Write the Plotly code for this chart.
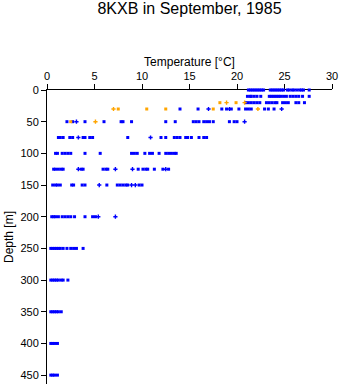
import plotly.graph_objects as go

# ---- data (depth [m] -> temperatures [°C]) ----
blue_depth = []
blue_temp = []
blue_rows = {
    0: [21.2, 21.4, 21.6, 21.8, 22.0, 22.2, 22.4, 22.6, 22.8, 23.5, 23.7, 23.9, 24.1, 24.3,
        24.5, 24.7, 24.9, 25.3, 25.5, 25.8, 26.0, 26.3, 26.6, 26.8, 27.0, 27.6],
    10: [21.1, 21.4, 21.5, 21.8, 22.1, 22.5, 23.4, 23.6, 23.8, 24.0, 24.2, 24.4, 24.6, 24.9,
         25.2, 25.6, 25.9, 26.2, 26.5, 26.9, 27.6],
    20: [20.9, 21.2, 21.5, 21.8, 22.1, 22.4, 23.1, 23.4, 23.7, 24.0, 24.2, 24.8, 25.1, 25.4,
         26.2, 26.5, 27.1],
    30: [14.0, 15.9, 18.4, 18.9, 19.4, 20.2, 20.9, 21.2, 21.5, 22.9, 23.3, 23.9],
    50: [2.1, 2.7, 4.0, 6.0, 7.8, 8.0, 8.9, 12.5, 13.5, 15.4, 15.7, 16.0, 16.5, 16.8, 17.1,
         17.5, 19.2, 19.7, 20.0],
    75: [1.2, 1.4, 1.7, 2.4, 2.7, 3.8, 4.0, 4.5, 4.8, 8.5, 12.0, 12.5, 13.4, 13.7, 14.0, 14.6,
         14.8, 15.2, 16.0, 16.5, 16.8],
    100: [0.9, 1.1, 1.6, 1.9, 2.2, 2.5, 4.0, 5.6, 8.9, 9.2, 9.5, 10.3, 10.8, 11.1, 11.8, 12.5,
          12.8, 13.1, 13.4, 13.6],
    125: [0.7, 0.9, 1.2, 1.5, 1.7, 3.6, 3.8, 5.9, 6.2, 6.4, 9.6, 10.1, 10.4, 10.6, 11.3, 12.2,
          12.8],
    150: [0.6, 0.9, 1.1, 1.4, 2.6, 2.8, 3.7, 4.0, 6.3, 7.4, 7.7, 8.0, 8.3, 8.5, 9.7, 10.0],
    200: [0.5, 0.7, 0.9, 1.2, 1.6, 1.9, 2.2, 2.5, 2.9, 4.0, 4.8, 5.1],
    250: [0.4, 0.6, 0.8, 1.0, 1.2, 1.4, 1.7, 2.1, 2.5, 2.8, 3.1, 3.8],
    300: [0.4, 0.6, 0.8, 1.0, 1.2, 1.5, 1.7, 2.2],
    350: [0.4, 0.6, 0.8, 1.0, 1.2, 1.5],
    400: [0.4, 0.6, 0.8, 1.1],
    450: [0.4, 0.6, 0.8, 1.1],
}
for d, ts in blue_rows.items():
    for t in ts:
        blue_depth.append(d)
        blue_temp.append(t)

blue_cross_depth = [30, 30, 30, 50, 50, 75, 75, 125, 125, 125, 125, 150, 150, 150, 200, 200]
blue_cross_temp = [17.0, 19.2, 24.7, 3.1, 20.8, 3.3, 10.9, 3.3, 7.2, 9.0, 12.5, 5.5, 8.9, 9.3, 5.4, 7.2]

orange_depth = [20, 20, 30, 30, 30, 30, 50]
orange_temp = [18.2, 19.9, 7.5, 10.5, 12.5, 17.5, 2.5]
orange_cross_depth = [20, 20, 30, 30, 50]
orange_cross_temp = [18.9, 20.8, 7.0, 22.2, 5.1]

x_ticks = [0, 5, 10, 15, 20, 25, 30]
y_ticks = [0, 50, 100, 150, 200, 250, 300, 350, 400, 450]

BLUE = "#0000ff"
ORANGE = "#ffa500"

fig = go.Figure()
fig.add_trace(go.Scatter(x=blue_temp, y=blue_depth, mode="markers", cliponaxis=False,
                         marker=dict(symbol="square", size=3, color=BLUE, line=dict(width=0))))
fig.add_trace(go.Scatter(x=blue_cross_temp, y=blue_cross_depth, mode="markers", cliponaxis=False,
                         marker=dict(symbol="cross", size=3.5, color=BLUE, line=dict(width=0))))
fig.add_trace(go.Scatter(x=orange_temp, y=orange_depth, mode="markers", cliponaxis=False,
                         marker=dict(symbol="square", size=3, color=ORANGE, line=dict(width=0))))
fig.add_trace(go.Scatter(x=orange_cross_temp, y=orange_cross_depth, mode="markers", cliponaxis=False,
                         marker=dict(symbol="cross", size=3.5, color=ORANGE, line=dict(width=0))))

font = "Liberation Sans, Arial, sans-serif"
fig.update_layout(
    width=341, height=384,
    margin=dict(l=47, r=9, t=90, b=0),
    paper_bgcolor="white", plot_bgcolor="white",
    showlegend=False,
    font=dict(family=font, size=11, color="black"),
    title=dict(text="8KXB in September, 1985", x=(47 + 332) / 2 / 341, xanchor="center",
               y=1 - 8 / 384, yanchor="middle", yref="container",
               font=dict(family=font, size=16, color="black")),
    xaxis=dict(side="top", range=[0, 30], tickvals=x_ticks, ticks="outside", ticklen=5,
               tickcolor="black", showline=True, linecolor="black", linewidth=1,
               showgrid=False, zeroline=False, layer="below traces",
               title=dict(text="Temperature [°C]", font=dict(size=12), standoff=0)),
    yaxis=dict(range=[464, 0], tickvals=y_ticks, ticks="outside", ticklen=5,
               tickcolor="black", showline=True, linecolor="black", linewidth=1,
               showgrid=False, zeroline=False, layer="below traces",
               title=dict(text="Depth [m]", font=dict(size=12), standoff=4)),
)

fig.write_html("out.html")
